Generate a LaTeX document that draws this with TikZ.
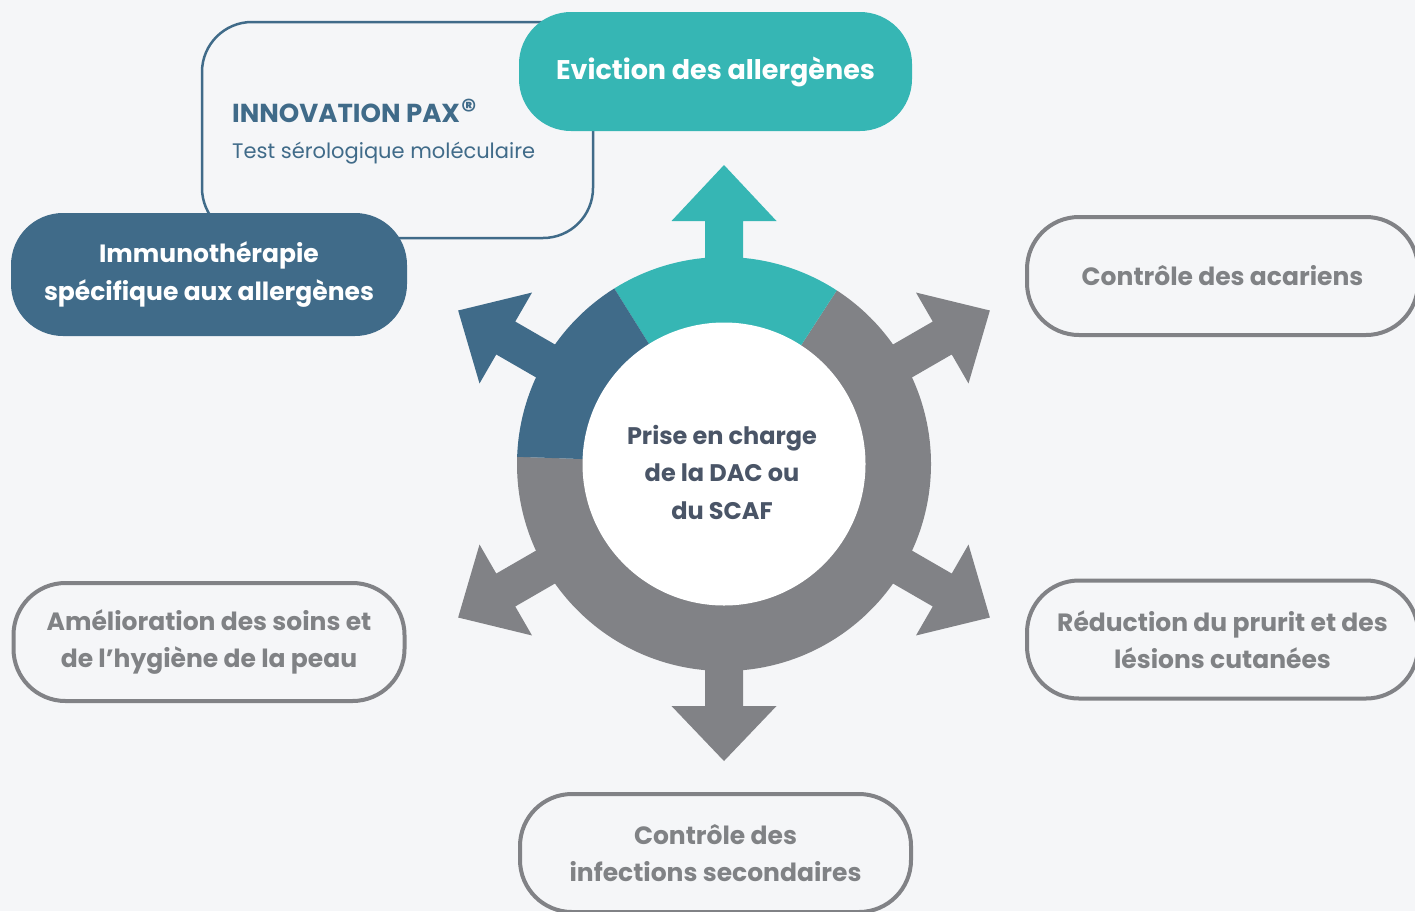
\documentclass[tikz,border=0pt]{standalone}
\usepackage{fontspec}
\setmainfont{Poppins}
\definecolor{bgc}{HTML}{F5F6F8}
\definecolor{tealc}{HTML}{36B6B4}
\definecolor{bluec}{HTML}{406B89}
\definecolor{grayc}{HTML}{818286}
\definecolor{grayt}{HTML}{808285}
\definecolor{darkt}{HTML}{4A5567}
\newcommand\boxfont{\bfseries\fontsize{25}{37.5}\selectfont}
\newcommand\corefont{\bfseries\fontsize{24}{37.5}\selectfont}
\tikzset{
  pill/.style={rounded corners=52pt, inner sep=0pt, align=center, font=\boxfont},
  outlinebox/.style={pill, draw=grayc, line width=4pt, text=grayt, minimum width=391pt, minimum height=118pt},
  solidbox/.style={pill, text=white},
}
\begin{document}
\begin{tikzpicture}[x=1pt,y=-1pt]
\fill[bgc] (0,0) rectangle (1415,911);
\useasboundingbox (0,0) rectangle (1415,911);
\clip (0,0) rectangle (1415,911);

% INNOVATION PAX box (behind)
\node[draw=bluec, line width=2.5pt, rounded corners=50pt, minimum width=391pt, minimum height=216pt, inner sep=0pt] (pax) at (397.5,130) {};
\node[anchor=west, text=bluec, inner sep=0pt, font=\bfseries\fontsize{26}{30}\selectfont] (paxtitle) at (232,111) {INNOVATION PAX\kern1pt\raisebox{0.05em}{\fontsize{30}{30}\selectfont ®}};
\node[anchor=west, text=bluec, inner sep=0pt, font=\fontsize{21}{25}\selectfont] (paxsub) at (232,153) {Test sérologique moléculaire};

% ring and arrows
\begin{scope}[shift={(724,464)}, y=1pt]
  \fill[grayc] (178:207) arc[start angle=178, end angle=417, radius=207] -- (417:141) arc[start angle=417, end angle=178, radius=141] -- cycle;
  \fill[tealc] (57:207) arc[start angle=57, end angle=122, radius=207] -- (122:141) arc[start angle=122, end angle=57, radius=141] -- cycle;
  \fill[bluec] (122:207) arc[start angle=122, end angle=178, radius=207] -- (178:141) arc[start angle=178, end angle=122, radius=141] -- cycle;
  \foreach \a/\c/\b/\t in {90/tealc/243/299,150/bluec/252/307,30/grayc/252/307,210/grayc/252/307,270/grayc/242/297,330/grayc/252/307}{
    \fill[\c, rotate=\a] (190,-19) -- (\b,-19) -- (\b,-52.5) -- (\t,0) -- (\b,52.5) -- (\b,19) -- (190,19) -- cycle;
  }
\end{scope}
\node[circle, fill=white, minimum size=283pt, inner sep=0pt] (hub) at (724,464) {};
\node[text=darkt, align=center, font=\corefont, inner sep=0pt] (core) at (722,472) {Prise en charge\\de la DAC ou\\du SCAF};

% boxes
\node[solidbox, fill=tealc, minimum width=393pt, minimum height=119pt] (evic) at (715.5,71.5) {\fontsize{27}{30}\selectfont Eviction des allergènes};
\node[solidbox, fill=bluec, minimum width=396pt, minimum height=123pt] (immuno) at (209,274.5) {Immunothérapie\\spécifique aux allergènes};
\node[outlinebox] (acar) at (1222.5,276) {Contrôle des acariens};
\node[outlinebox] (prur) at (1222.5,639.5) {Réduction du prurit et des\\lésions cutanées};
\node[outlinebox] (hyg) at (209,642) {Amélioration des soins et\\de l’hygiène de la peau};
\node[outlinebox] (infec) at (715.5,853) {Contrôle des\\infections secondaires};
\end{tikzpicture}
\end{document}
